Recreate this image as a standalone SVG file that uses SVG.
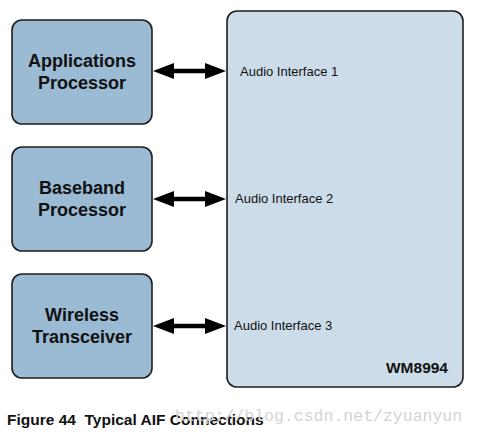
<svg xmlns="http://www.w3.org/2000/svg" width="477" height="434" viewBox="0 0 477 434">
<style>
.box{fill:#9bbad4;stroke:#1e1e1e;stroke-width:1.6}
.chip{fill:#ccdde9;stroke:#1e1e1e;stroke-width:1.6}
.nl{font-family:"Liberation Sans",Arial,sans-serif;font-weight:bold;font-size:18px;fill:#111;text-anchor:middle}
.al{font-family:"Liberation Sans",Arial,sans-serif;font-size:13px;fill:#111}
.arrow{fill:#000}
</style>
<defs>
<polygon id="dbl" points="0,0 21,-8 21,-2.2 52,-2.2 52,-8 73,0 52,8 52,2.2 21,2.2 21,8"/>
</defs>
<g id="wm8994">
<rect class="chip" x="227" y="11" width="236" height="376" rx="10"/>
<text class="al" x="240" y="76">Audio Interface 1</text>
<text class="al" x="235" y="203">Audio Interface 2</text>
<text class="al" x="234" y="330">Audio Interface 3</text>
<text x="448" y="373" style="font-family:'Liberation Sans',Arial,sans-serif;font-weight:bold;font-size:15.5px;fill:#111;text-anchor:end">WM8994</text>
</g>
<g id="app">
<rect class="box" x="12" y="20" width="140" height="104" rx="10"/>
<text class="nl" x="82" y="67">Applications</text>
<text class="nl" x="82" y="89">Processor</text>
</g>
<g id="baseband">
<rect class="box" x="12" y="147" width="140" height="104" rx="10"/>
<text class="nl" x="82" y="194">Baseband</text>
<text class="nl" x="82" y="216">Processor</text>
</g>
<g id="wireless">
<rect class="box" x="12" y="274" width="140" height="104" rx="10"/>
<text class="nl" x="82" y="321">Wireless</text>
<text class="nl" x="82" y="343">Transceiver</text>
</g>
<g id="connectors" class="arrow">
<use href="#dbl" x="153" y="71"/>
<use href="#dbl" x="153" y="199"/>
<use href="#dbl" x="153" y="326"/>
</g>
<text x="7" y="425" xml:space="preserve" style="font-family:'Liberation Sans',Arial,sans-serif;font-weight:bold;font-size:15.5px;fill:#111">Figure 44  Typical AIF Connections</text>
<text x="175" y="421" style="font-family:'Liberation Mono','Courier New',monospace;font-size:16.5px;fill:#d4d4d4">http://blog.csdn.net/zyuanyun</text>
</svg>
